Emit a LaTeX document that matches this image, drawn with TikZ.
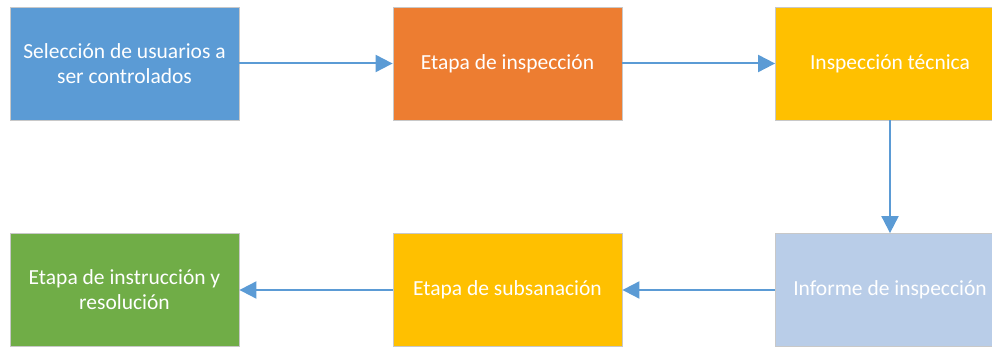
\documentclass[tikz,border=0pt]{standalone}
\usepackage{fontspec}
\setmainfont{Carlito}
\usetikzlibrary{arrows.meta}
\definecolor{cblue}{HTML}{5B9BD5}
\definecolor{corange}{HTML}{ED7D31}
\definecolor{cyellow}{HTML}{FFC000}
\definecolor{clight}{HTML}{B9CDE8}
\definecolor{cgreen}{HTML}{70AD47}
\definecolor{cborder}{HTML}{C8C8C8}
\begin{document}
\begin{tikzpicture}[x=1pt,y=1pt,
  stepbox/.style={draw=cborder, line width=0.8pt, minimum width=229pt, minimum height=113pt,
    inner sep=0pt, text=white, align=center, font=\fontsize{21.5}{25}\selectfont, anchor=center},
  conn/.style={draw=cblue, line width=2pt, -{Triangle[length=17pt,width=17pt]}}]
\useasboundingbox (0,0) rectangle (992,347);
\begin{scope}
\clip (0,0) rectangle (992,347);
\node[stepbox, fill=cblue] (a) at (124.5,283.5) {Selección de usuarios a\\ser controlados};
\node[stepbox, fill=corange] (b) at (507.5,283.5) {Etapa de inspección};
\node[stepbox, fill=cyellow] (c) at (890,283.5) {Inspección técnica};
\node[stepbox, fill=clight] (d) at (890,57) {Informe de inspección};
\node[stepbox, fill=cyellow] (e) at (507.5,57) {Etapa de subsanación};
\node[stepbox, fill=cgreen] (f) at (124.5,57) {Etapa de instrucción y\\resolución};
\end{scope}
\draw[conn] (a.east) -- (b.west);
\draw[conn] (b.east) -- (c.west);
\draw[conn] (c.south) -- (d.north);
\draw[conn] (d.west) -- (e.east);
\draw[conn] (e.west) -- (f.east);
\end{tikzpicture}
\end{document}
